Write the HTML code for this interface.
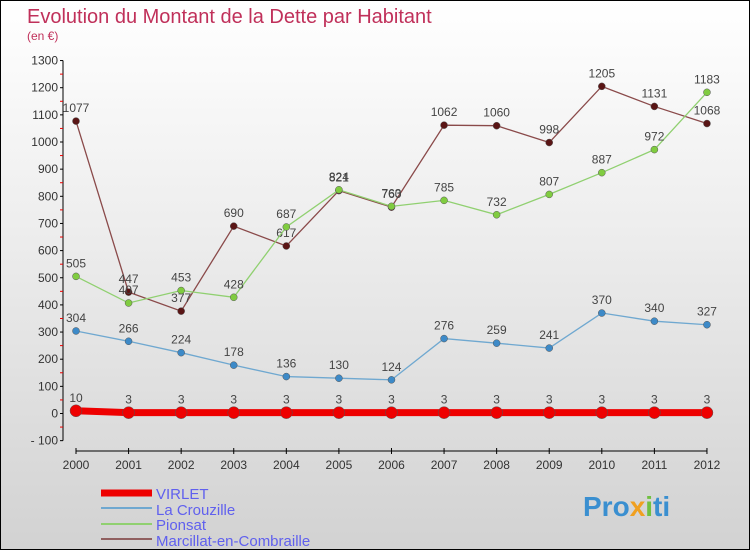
<!DOCTYPE html>
<html><head><meta charset="utf-8"><style>
body{margin:0;}
#c{width:748px;height:548px;border:1px solid #000;background:linear-gradient(#fff 0%,#eee 40%,#d2d2d2 100%);position:relative;overflow:hidden;font-family:"Liberation Sans",sans-serif;}
</style></head><body>
<div id="c">
<svg id="s" width="748" height="548" xmlns="http://www.w3.org/2000/svg">
<text x="26" y="22" font-size="20" fill="#c0305a">Evolution du Montant de la Dette par Habitant</text>
<text x="26" y="39" font-size="12" fill="#c0305a">(en €)</text>
<g id="axes"></g><g id="series"></g>
<g>
<line x1="100" y1="492" x2="151" y2="492" stroke="#ee0000" stroke-width="7"/>
<text x="155" y="498" font-size="15" fill="#6060ee">VIRLET</text>
<line x1="100" y1="507" x2="151" y2="507" stroke="#6fa8d0" stroke-width="2"/>
<text x="155" y="514" font-size="15" fill="#6060ee">La Crouzille</text>
<line x1="100" y1="523" x2="151" y2="523" stroke="#90d070" stroke-width="2"/>
<text x="155" y="529" font-size="15" fill="#6060ee">Pionsat</text>
<line x1="100" y1="538" x2="151" y2="538" stroke="#906060" stroke-width="2"/>
<text x="155" y="545" font-size="15" fill="#6060ee">Marcillat-en-Combraille</text>
</g>
<text x="582" y="515" font-size="28" font-weight="bold" fill="#3a8fd0">Pro<tspan fill="#f0a020">x</tspan><tspan fill="#70c040">i</tspan>ti</text>
</svg></div>
<script>
const years=[2000,2001,2002,2003,2004,2005,2006,2007,2008,2009,2010,2011,2012];
const yTicks=[-100,0,100,200,300,400,500,600,700,800,900,1000,1100,1200,1300];
const virlet=[10,3,3,3,3,3,3,3,3,3,3,3,3];
const crouzille=[304,266,224,178,136,130,124,276,259,241,370,340,327];
const pionsat=[505,407,453,428,687,824,763,785,732,807,887,972,1183];
const marcillat=[1077,447,377,690,617,821,760,1062,1060,998,1205,1131,1068];
const NS="http://www.w3.org/2000/svg";
const X=i=>75+i*52.58, Y=v=>412.5-v*0.2715;
function mk(t,a,p){const e=document.createElementNS(NS,t);for(const k in a)e.setAttribute(k,a[k]);p.appendChild(e);return e;}
const ax=document.getElementById('axes'),sg=document.getElementById('series');
mk('line',{x1:62,y1:Y(1300),x2:62,y2:Y(-100),stroke:'#000'},ax);
mk('line',{x1:75,y1:450,x2:706,y2:450,stroke:'#000'},ax);
yTicks.forEach(v=>{mk('line',{x1:59,y1:Y(v),x2:62,y2:Y(v),stroke:'#000'},ax);
 if(v<1300)mk('line',{x1:59,y1:Y(v+50),x2:62,y2:Y(v+50),stroke:'#e00'},ax);
 const t=mk('text',{x:57,y:Y(v)+4,'font-size':12,'text-anchor':'end',fill:'#333'},ax);t.textContent=v<0?'- '+(-v):v;
 
 });
years.forEach((y,i)=>{mk('line',{x1:X(i),y1:447,x2:X(i),y2:453,stroke:'#000'},ax);
 const t=mk('text',{x:X(i),y:468,'font-size':12,'text-anchor':'middle',fill:'#333'},ax);t.textContent=y;
 
 });
function series(d,col,dot,w,r,name){
 const g=mk('g',{},sg);
 
 
 mk('polyline',{points:d.map((v,i)=>X(i)+','+Y(v)).join(' '),fill:'none',stroke:col,'stroke-width':w},g);
 d.forEach((v,i)=>{mk('circle',{cx:X(i),cy:Y(v),r:r,fill:dot,stroke:'#555','stroke-width':0.5},g);
  const t=mk('text',{x:X(i),y:Y(v)-9,'font-size':12,'text-anchor':'middle',fill:'#444'},g);t.textContent=v;});
}
series(marcillat,'#8a4a4a','#5a1515',1.3,3.5,'series-marcillat');
series(pionsat,'#90d070','#80cc40',1.3,3.5,'series-pionsat');
series(crouzille,'#6fa8d0','#3d8ac8',1.3,3.5,'series-la-crouzille');
series(virlet,'#ee0000','#ee0000',7,6,'series-virlet');
</script>
</body></html>
